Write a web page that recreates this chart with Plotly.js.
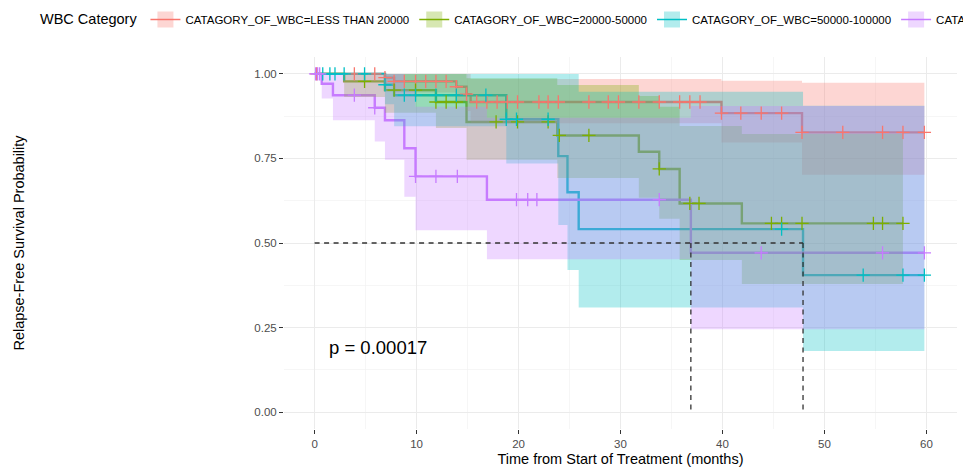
<!DOCTYPE html>
<html>
<head>
<meta charset="utf-8">
<script src="https://cdn.plot.ly/plotly-3.0.1.min.js"></script>
<style>
html,body{margin:0;padding:0;overflow:hidden;background:#fff;}
#chart{width:2000px;height:468px;}
</style>
</head>
<body>
<div id="chart"></div>
<script>
// ---- categories ----
const groupNames = [
  "CATAGORY_OF_WBC=LESS THAN 20000",
  "CATAGORY_OF_WBC=20000-50000",
  "CATAGORY_OF_WBC=50000-100000",
  "CATAGORY_OF_WBC=MORE THAN 100000"
];

// ---- LESS THAN 20000 ----
const lt20Time   = [0, 6.9, 7.8, 13.9, 14.9, 15.3, 39.9, 47.8, 59.8];
const lt20Surv   = [1, 0.989, 0.978, 0.962, 0.94, 0.917, 0.884, 0.827, 0.827];
const lt20Lower  = [1, 0.968, 0.945, 0.92, 0.89, 0.854, 0.797, 0.702, 0.702];
const lt20Upper  = [1, 1, 1, 1, 1, 0.985, 0.98, 0.974, 0.974];
const lt20Censor = [0.2, 3.9, 5.9, 6.9, 7.8, 8.8, 9.9, 10.9, 11.9, 12.9, 13.9, 14.9, 15.9, 16.9, 17.9, 18.9, 19.9, 22, 22.9, 23.9, 26.9, 28.8, 29.8, 31.8, 33.8, 35.8, 36.8, 37.8, 39.9, 41.8, 43.8, 45.8, 47.8, 51.8, 55.7, 57.7, 59.8];

// ---- 20000-50000 ----
const g2050Time   = [0, 2.9, 6.9, 11.9, 14.9, 23.8, 31.8, 33.8, 35.8, 41.9, 57.7];
const g2050Surv   = [1, 0.978, 0.952, 0.917, 0.858, 0.818, 0.770, 0.719, 0.617, 0.558, 0.558];
const g2050Lower  = [1, 0.932, 0.885, 0.84, 0.746, 0.692, 0.634, 0.572, 0.45, 0.379, 0.379];
const g2050Upper  = [1, 1, 1, 1, 0.987, 0.967, 0.935, 0.903, 0.846, 0.822, 0.822];
const g2050Censor = [4.9, 7.8, 9.9, 11.9, 12.9, 13.9, 17.8, 19.9, 22.9, 24, 26.9, 33.8, 36.8, 37.7, 44.8, 45.8, 47.8, 54.8, 55.7, 57.7];

// ---- 50000-100000 ----
const g50100Time   = [0, 6.9, 7.8, 18.8, 23.9, 24.8, 25.9, 47.9, 59.8];
const g50100Surv   = [1, 0.968, 0.937, 0.866, 0.757, 0.650, 0.541, 0.405, 0.405];
const g50100Lower  = [1, 0.91, 0.845, 0.735, 0.553, 0.42, 0.309, 0.181, 0.181];
const g50100Upper  = [1, 1, 1, 1, 1, 1, 0.947, 0.906, 0.906];
const g50100Censor = [0.8, 1.5, 2, 2.9, 4.9, 6.9, 8.8, 9.9, 11.9, 13.9, 16.8, 18.8, 19.8, 22.9, 45.8, 53.8, 57.7, 59.8];

// ---- MORE THAN 100000 ----
const gt100Time   = [0, 0.7, 1.8, 5.9, 6.9, 8.8, 9.9, 16.9, 36.9, 59.8];
const gt100Surv   = [1, 0.971, 0.937, 0.900, 0.863, 0.780, 0.697, 0.628, 0.471, 0.471];
const gt100Lower  = [1, 0.927, 0.863, 0.80, 0.746, 0.637, 0.538, 0.452, 0.245, 0.245];
const gt100Upper  = [1, 1, 1, 1, 1, 0.955, 0.903, 0.870, 0.905, 0.905];
const gt100Censor = [0.1, 0.3, 0.5, 3.9, 5.9, 9.9, 11.9, 14, 19.8, 20.9, 21.8, 33.8, 43.8, 55.7, 59.8];

// ---- medians / p-value ----
const medianTimes = [36.9, 47.9];
const medianLevel = 0.5;
const pValueText = "p = 0.00017";
const pValuePos = [1.2, 0.192];

// ---- ticks ----
const xTickVals = [0, 10, 20, 30, 40, 50, 60];
const xMinorVals = [5, 15, 25, 35, 45, 55];
const yTickVals = [0, 0.25, 0.5, 0.75, 1];
const yTickText = ["0.00", "0.25", "0.50", "0.75", "1.00"];
const yMinorVals = [0.125, 0.375, 0.625, 0.875];

// ---- styles ----
const colors = ["#F8766D", "#7CAE00", "#00BFC4", "#C77CFF"];
const ribbonFill = ["rgba(248,118,109,0.3)", "rgba(124,174,0,0.3)", "rgba(0,191,196,0.3)", "rgba(199,124,255,0.3)"];
const FONT = "Liberation Sans, Arial, Helvetica, sans-serif";

const groups = [
  {t: lt20Time, s: lt20Surv, lo: lt20Lower, up: lt20Upper, c: lt20Censor},
  {t: g2050Time, s: g2050Surv, lo: g2050Lower, up: g2050Upper, c: g2050Censor},
  {t: g50100Time, s: g50100Surv, lo: g50100Lower, up: g50100Upper, c: g50100Censor},
  {t: gt100Time, s: gt100Surv, lo: gt100Lower, up: gt100Upper, c: gt100Censor}
];

function stepPoints(t, v) {
  const xs = [], ys = [];
  for (let i = 0; i < t.length; i++) {
    xs.push(t[i]); ys.push(v[i]);
    if (i < t.length - 1) { xs.push(t[i + 1]); ys.push(v[i]); }
  }
  return {xs, ys};
}
function survAt(g, time) {
  let val = g.s[0];
  for (let i = 0; i < g.t.length; i++) if (g.t[i] <= time) val = g.s[i];
  return val;
}

const traces = [];
// legend keys
groups.forEach((g, k) => {
  traces.push({
    x: [null], y: [null], type: "scatter", mode: "lines+markers",
    name: groupNames[k], legendgroup: "g" + k,
    line: {color: colors[k], width: 1.5},
    marker: {symbol: "square", size: 16, color: ribbonFill[k], line: {width: 0}},
    hoverinfo: "skip"
  });
});
// survival step lines
groups.forEach((g, k) => {
  traces.push({
    x: g.t, y: g.s, type: "scatter", mode: "lines",
    line: {color: colors[k], width: 2.4, shape: "hv"},
    showlegend: false, legendgroup: "g" + k, hoverinfo: "skip"
  });
});
// confidence ribbons
groups.forEach((g, k) => {
  const u = stepPoints(g.t, g.up), l = stepPoints(g.t, g.lo);
  traces.push({
    x: u.xs.concat(l.xs.slice().reverse()),
    y: u.ys.concat(l.ys.slice().reverse()),
    type: "scatter", mode: "lines", fill: "toself",
    fillcolor: ribbonFill[k], line: {width: 0},
    showlegend: false, legendgroup: "g" + k, hoverinfo: "skip"
  });
});
// censor marks
groups.forEach((g, k) => {
  traces.push({
    x: g.c, y: g.c.map(tm => survAt(g, tm)), type: "scatter", mode: "markers",
    marker: {symbol: "cross-thin", size: 9.5, color: colors[k], line: {color: colors[k], width: 1.3}},
    showlegend: false, legendgroup: "g" + k, hoverinfo: "skip"
  });
});
// median lines
const mx = [0, Math.max(...medianTimes)], my = [medianLevel, medianLevel];
medianTimes.forEach(m => { mx.push(null, m, m); my.push(null, medianLevel, 0); });
traces.push({
  x: mx, y: my, type: "scatter", mode: "lines",
  line: {color: "#333333", width: 1.3, dash: "5px,4.5px"},
  showlegend: false, hoverinfo: "skip"
});

// The page is wider than the 963px window; the axes occupy the visible part,
// so the one-row legend runs past the right edge exactly as in the reference.
const W = 2000;
const plotL = 284, plotR = 957, plotT = 57, plotB = 429;
const marginR = 40;
const areaW = W - plotL - marginR;
const layout = {
  width: W, height: 468,
  margin: {l: plotL, r: marginR, t: plotT, b: 468 - plotB, autoexpand: false},
  paper_bgcolor: "#ffffff", plot_bgcolor: "rgba(0,0,0,0)",
  font: {family: FONT, color: "#000"},
  hovermode: false,
  showlegend: true,
  legend: {
    orientation: "h", xref: "paper", yref: "paper",
    x: (38 - plotL) / areaW, y: 1 + (plotT - 5) / (plotB - plotT),
    xanchor: "left", yanchor: "top",
    title: {text: "WBC Category", font: {family: FONT, size: 14.5, color: "#000"}, side: "left"},
    font: {family: FONT, size: 11.5, color: "#000"},
    bgcolor: "rgba(0,0,0,0)", traceorder: "normal", itemwidth: 30
  },
  xaxis: {
    domain: [0, (plotR - plotL) / areaW],
    range: [-3, 63], tickmode: "array", tickvals: xTickVals,
    ticks: "outside", ticklen: 4, tickcolor: "#333333", tickwidth: 1,
    showgrid: true, gridcolor: "#EBEBEB", gridwidth: 1,
    minor: {tickmode: "array", tickvals: xMinorVals, showgrid: true, gridcolor: "#F2F2F2", gridwidth: 0.7, ticks: ""},
    zeroline: false, showline: false,
    tickfont: {family: FONT, size: 11.5, color: "#4D4D4D"},
    title: {text: "Time from Start of Treatment (months)", font: {family: FONT, size: 14.5, color: "#000"}, standoff: 5}
  },
  yaxis: {
    range: [-0.05, 1.05], tickmode: "array", tickvals: yTickVals, ticktext: yTickText,
    ticks: "outside", ticklen: 4, tickcolor: "#333333", tickwidth: 1,
    showgrid: true, gridcolor: "#EBEBEB", gridwidth: 1,
    minor: {tickmode: "array", tickvals: yMinorVals, showgrid: true, gridcolor: "#F2F2F2", gridwidth: 0.7, ticks: ""},
    zeroline: false, showline: false,
    tickfont: {family: FONT, size: 11.5, color: "#4D4D4D"},
    title: {text: "Relapse-Free Survival Probability", font: {family: FONT, size: 14.5, color: "#000"}, standoff: 226}
  },
  annotations: [{
    x: pValuePos[0], y: pValuePos[1], xref: "x", yref: "y",
    text: pValueText, showarrow: false, xanchor: "left", yanchor: "middle",
    font: {family: FONT, size: 18.5, color: "#000"}
  }]
};

Plotly.newPlot("chart", traces, layout, {displayModeBar: false, staticPlot: true});
</script>
</body>
</html>
